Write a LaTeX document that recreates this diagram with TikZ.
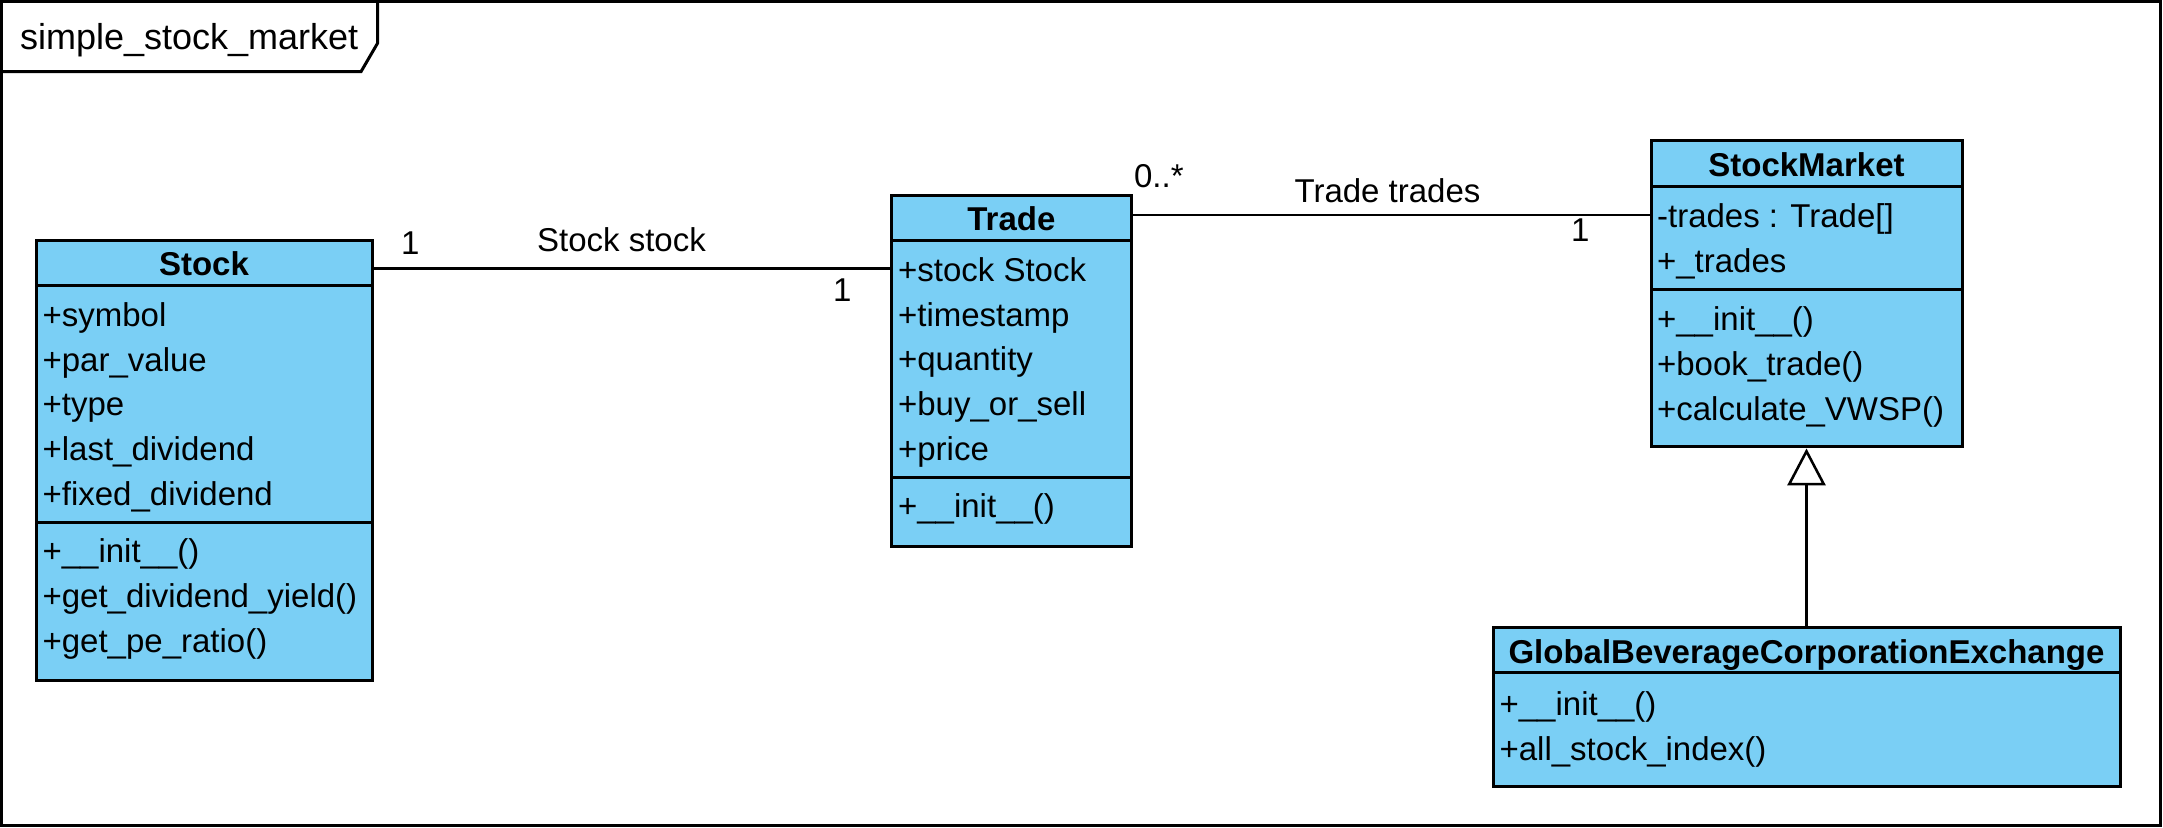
\documentclass[tikz,border=0pt]{standalone}
\usepackage{fontspec}
\setmainfont{Liberation Sans}
\usetikzlibrary{arrows.meta,fit,calc}
\definecolor{umlblue}{RGB}{122,207,245}
\tikzset{
  umlbox/.style={draw, line width=1pt, fill=umlblue, inner sep=0pt},
  sepline/.style={line width=1pt},
  hdr/.style={font=\fontsize{11pt}{13pt}\selectfont\bfseries, anchor=base, inner sep=0pt},
  member/.style={font=\fontsize{11pt}{13pt}\selectfont, anchor=base west, inner sep=0pt},
  mult/.style={font=\fontsize{11pt}{13pt}\selectfont, anchor=base west, inner sep=0pt},
  assoc/.style={line width=0.85pt},
  inherit/.style={line width=0.85pt, -{Triangle[open, length=12.3pt, width=12.7pt, fill=white]}},
  framestyle/.style={line width=1pt},
}
\begin{document}
\begin{tikzpicture}[x=0.333333pt, y=-0.333333pt]
\useasboundingbox (0,0) rectangle (2163,828);
% frame and tab
\draw[framestyle] (1.5,1.5) rectangle (2160.5,825.5);
\draw[framestyle] (1.5,71.7) -- (361,71.7) -- (377.7,43) -- (377.7,1.5);
\node[anchor=base west, inner sep=0pt, font=\fontsize{12pt}{14pt}\selectfont] (title) at (19.5,50) {simple\_stock\_market};

% ---------- Stock ----------
\node[umlbox, fit={(36,241) (372,681)}] (stock) {};
\draw[sepline] (36,286) -- (372,286);
\draw[sepline] (36,522.5) -- (372,522.5);
\node[hdr] (stock-h) at (204,276) {Stock};
\foreach \t [count=\i] in {{+symbol},{+par\_value},{+type},{+last\_dividend},{+fixed\_dividend}}
  \node[member] (stock-a\i) at (42,{326.5+44.75*(\i-1)}) {\t};
\foreach \t [count=\i] in {{+\_\_init\_\_()},{+get\_dividend\_yield()},{+get\_pe\_ratio()}}
  \node[member] (stock-m\i) at (42,{563+45*(\i-1)}) {\t};

% ---------- Trade ----------
\node[umlbox, fit={(891.8,195.7) (1131,546.7)}] (trade) {};
\draw[sepline] (891.8,240.7) -- (1131,240.7);
\draw[sepline] (891.8,477.5) -- (1131,477.5);
\node[hdr] (trade-h) at (1011.4,230.5) {Trade};
\foreach \t [count=\i] in {{+stock Stock},{+timestamp},{+quantity},{+buy\_or\_sell},{+price}}
  \node[member] (trade-a\i) at (897.5,{281.5+44.75*(\i-1)}) {\t};
\node[member] (trade-m1) at (897.5,518) {+\_\_init\_\_()};

% ---------- StockMarket ----------
\node[umlbox, fit={(1651,141) (1962,447)}] (sm) {};
\draw[sepline] (1651,186.5) -- (1962,186.5);
\draw[sepline] (1651,289.3) -- (1962,289.3);
\node[hdr] (sm-h) at (1806.5,176.7) {StockMarket};
\node[member] (sm-a1) at (1656.5,227.7) {-trades : Trade[]};
\node[member] (sm-a2) at (1656.5,272.5) {+\_trades};
\foreach \t [count=\i] in {{+\_\_init\_\_()},{+book\_trade()},{+calculate\_VWSP()}}
  \node[member] (sm-m\i) at (1656.5,{330.3+44.9*(\i-1)}) {\t};

% ---------- GlobalBeverageCorporationExchange ----------
\node[umlbox, fit={(1493,628) (2120,787)}] (gbce) {};
\draw[sepline] (1493,673) -- (2120,673);
\node[hdr] (gbce-h) at (1806.5,663.5) {GlobalBeverageCorporationExchange};
\node[member] (gbce-m1) at (1499,716) {+\_\_init\_\_()};
\node[member] (gbce-m2) at (1499,760.5) {+all\_stock\_index()};

% ---------- connectors ----------
\coordinate (c1) at ($(stock.north east)+(0,29)$);
\draw[assoc] (c1) -- (c1 -| trade.west);
\coordinate (c2) at ($(trade.north east)+(0,21)$);
\draw[assoc] (c2) -- (c2 -| sm.west);
\draw[inherit] (gbce.north) -- (sm.south);

% ---------- labels ----------
\node[mult] (m1) at (400.5,255) {1};
\node[mult] (r1) at (536.5,252) {Stock stock};
\node[mult] (m2) at (832.5,302) {1};
\node[mult] (m3) at (1133.5,188) {0..*};
\node[mult] (r2) at (1294,203) {Trade trades};
\node[mult] (m4) at (1570.5,242) {1};
\end{tikzpicture}
\end{document}
